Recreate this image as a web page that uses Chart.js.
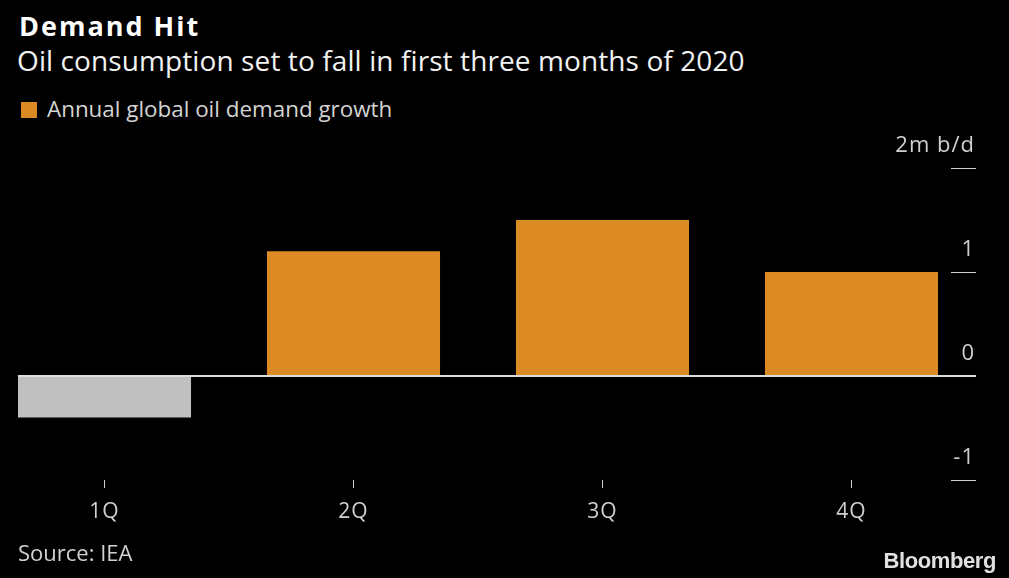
<!DOCTYPE html>
<html>
<head>
<meta charset="utf-8">
<script src="https://cdn.jsdelivr.net/npm/chart.js@4.4.1/dist/chart.umd.min.js"></script>
<style>
  html, body { margin: 0; padding: 0; background: #000; width: 1009px; height: 578px; overflow: hidden; }
  body { position: relative; font-family: "Open Sans", "Noto Sans", sans-serif; }
  .txt { position: absolute; white-space: nowrap; line-height: 1; }
  #title { left: 19px; top: 12px; font-size: 27px; font-weight: bold; color: #fff; letter-spacing: 2px; }
  #subtitle { left: 17px; top: 46px; font-size: 28px; color: #f2f2f2; letter-spacing: 0.1px; }
  #legend { left: 21px; top: 98px; font-size: 22.4px; color: #d4d4d4; }
  #legend span.box { display: inline-block; width: 16px; height: 16px; background: #dc8a23; margin-right: 10px; vertical-align: -1px; }
  #source { left: 18px; top: 541px; font-size: 22px; color: #d0d0d0; }
  #brand { right: 13px; top: 550px; font-family: "Liberation Sans", Arial, sans-serif; font-size: 22px; font-weight: bold; color: #e0e0e0; letter-spacing: -0.4px; }
  #myChart { position: absolute; left: -20px; top: 0; letter-spacing: 1px; }
</style>
</head>
<body>
<div class="txt" id="title">Demand Hit</div>
<div class="txt" id="subtitle">Oil consumption set to fall in first three months of 2020</div>
<div class="txt" id="legend"><span class="box"></span>Annual global oil demand growth</div>
<canvas id="myChart" width="1029" height="578"></canvas>
<div class="txt" id="source">Source: IEA</div>
<div class="txt" id="brand">Bloomberg</div>
<script>
const ctx = document.getElementById("myChart");

const quarters = ["1Q", "2Q", "3Q", "4Q"];
const demandGrowth = [-0.4, 1.2, 1.5, 1.0];
const yTicks = [-1, 0, 1, 2];
const yTickLabels = ["-1", "0", "1", "2m b/d"];

const orange = "#dc8a23";
const grey = "#c0c0c0";
const tickFont = { family: "'Open Sans', 'Noto Sans', sans-serif", size: 21 };

// zero line starts at the first bar, not at the chart edge
const zeroLine = {
  id: "zeroLine",
  afterDatasetsDraw(chart) {
    const bar = chart.getDatasetMeta(0).data[0];
    const y = chart.scales.y.getPixelForValue(0);
    const c = chart.ctx;
    c.save();
    c.strokeStyle = "#dcdcdc";
    c.lineWidth = 2;
    c.beginPath();
    c.moveTo(bar.x - bar.width / 2, y);
    c.lineTo(chart.chartArea.right, y);
    c.stroke();
    c.restore();
  },
};

let myChart = new Chart(ctx, {
  type: "bar",
  data: {
    labels: quarters,
    datasets: [
      {
        label: "Annual global oil demand growth",
        data: demandGrowth,
        backgroundColor: demandGrowth.map((v) => (v < 0 ? grey : orange)),
        borderWidth: 0,
        barPercentage: 0.695,
        categoryPercentage: 1,
        clip: false,
      },
    ],
  },
  plugins: [zeroLine],
  options: {
    responsive: false,
    devicePixelRatio: 1,
    animation: false,
    layout: { padding: { top: 168, right: 33, bottom: 38, left: 0 } },
    plugins: {
      legend: { display: false },
      tooltip: { enabled: false },
    },
    scales: {
      x: {
        border: { display: false },
        grid: {
          offset: false,
          drawOnChartArea: false,
          drawTicks: true,
          tickLength: 8,
          tickColor: "#cfcfcf",
          tickWidth: 1,
        },
        ticks: { color: "#d0d0d0", font: tickFont, padding: 11 },
        afterFit: (scale) => {
          scale.height = 60;
        },
      },
      y: {
        position: "right",
        min: -1,
        max: 2,
        afterBuildTicks: (scale) => {
          scale.ticks = yTicks.map((v) => ({ value: v }));
        },
        afterFit: (scale) => {
          scale.width = 0;
        },
        border: { display: false },
        grid: {
          color: "rgba(0,0,0,0)",
          tickColor: "#cfcfcf",
          tickWidth: 1,
          tickLength: -25,
          drawTicks: true,
        },
        ticks: {
          mirror: true,
          padding: -1,
          labelOffset: -22,
          color: "#d0d0d0",
          font: { family: tickFont.family, size: 22 },
          callback: (value) => yTickLabels[yTicks.indexOf(value)],
        },
      },
    },
  },
});
</script>
</body>
</html>
